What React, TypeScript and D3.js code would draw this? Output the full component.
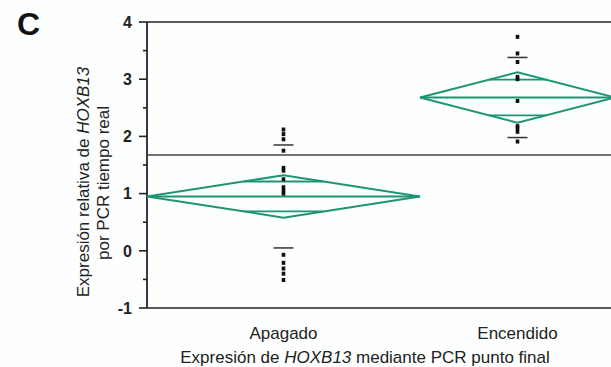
import React from "react";
import * as d3 from "d3";

const groups = ["Apagado", "Encendido"];
const groupSizes = [14, 10];
const apagadoValues = [2.12, 2.04, 1.95, 1.75, 1.45, 1.4, 1.25, 1.11, 1.05, 1.0, -0.07, -0.21, -0.31, -0.4, -0.51];
const encendidoValues = [3.74, 3.45, 3.3, 3.04, 3.0, 2.62, 2.18, 2.14, 2.08, 1.91];
const groupMeans = [0.95, 2.68];
const groupCiHalf = [0.37, 0.44];
const groupSd = [0.9, 0.7];
const grandMean = 1.675;
const yTicks = [-1, 0, 1, 2, 3, 4];
const yMinorTicks = [-0.5, 0.5, 1.5, 2.5, 3.5];

const W = 611;
const H = 367;
const DIAMOND = "#1f9474";
const FONT = "'Liberation Sans', Arial, sans-serif";

export default function App() {
  const y = d3.scaleLinear().domain([-1, 4]).range([308, 22]);
  const total = d3.sum(groupSizes);
  const x = d3.scaleLinear().domain([0, total]).range([147, 615]);
  const cum = d3.cumsum(groupSizes);
  const bounds = groupSizes.map((n, i) => [x(cum[i] - n), x(cum[i])]);
  const values = [apagadoValues, encendidoValues];
  const x0 = x(0);
  const axisY = y(-1);
  const topY = y(4);

  return (
    <svg width={W} height={H} style={{ position: "absolute", left: 0, top: 0, background: "#fdfffe" }}>
      {/* panel letter */}
      <text x={17} y={35} fontFamily={FONT} fontWeight="bold" fontSize={32} fill="#111">C</text>

      {/* frame lines */}
      <line x1={x0} x2={W} y1={topY} y2={topY} stroke="#222" strokeWidth={1.6} />
      <line x1={x0} x2={W} y1={axisY} y2={axisY} stroke="#222" strokeWidth={1.6} />
      <line x1={x0} x2={x0} y1={topY} y2={axisY} stroke="#223" strokeWidth={1.8} />

      {/* grand mean */}
      <line x1={x0} x2={W} y1={y(grandMean)} y2={y(grandMean)} stroke="#444" strokeWidth={1.3} />

      {/* y ticks */}
      {yTicks.map((t) => (
        <g key={t}>
          <line x1={x0 - 8} x2={x0} y1={y(t)} y2={y(t)} stroke="#222" strokeWidth={1.6} />
          <text x={132} y={y(t)} dy="0.36em" textAnchor="end" fontFamily={FONT} fontWeight="bold" fontSize={16} fill="#222">
            {t}
          </text>
        </g>
      ))}
      {yMinorTicks.map((t) => (
        <line key={t} x1={x0 - 4} x2={x0} y1={y(t)} y2={y(t)} stroke="#222" strokeWidth={1.6} />
      ))}

      {/* x tick at group boundary */}
      {cum.slice(0, -1).map((c) => (
        <line key={c} x1={x(c)} x2={x(c)} y1={axisY} y2={axisY + 6} stroke="#222" strokeWidth={1.8} />
      ))}

      {/* diamonds */}
      {groups.map((g, i) => {
        const [a, b] = bounds[i];
        const c = (a + b) / 2;
        const m = groupMeans[i];
        const ci = groupCiHalf[i];
        const pts = [
          [a, y(m)],
          [c, y(m + ci)],
          [b, y(m)],
          [c, y(m - ci)],
        ];
        const ov = ci / Math.SQRT2;
        const hw = ((b - a) / 2) * (1 - 1 / Math.SQRT2);
        return (
          <g key={g}>
            <polygon points={pts.map((p) => p.join(",")).join(" ")} fill="none" stroke={DIAMOND} strokeWidth={2} />
            <line x1={a} x2={b} y1={y(m)} y2={y(m)} stroke={DIAMOND} strokeWidth={2} />
            <line x1={c - hw} x2={c + hw} y1={y(m + ov)} y2={y(m + ov)} stroke={DIAMOND} strokeWidth={1.8} />
            <line x1={c - hw} x2={c + hw} y1={y(m - ov)} y2={y(m - ov)} stroke={DIAMOND} strokeWidth={1.8} />
          </g>
        );
      })}

      {/* SD lines and points */}
      {groups.map((g, i) => {
        const [a, b] = bounds[i];
        const c = (a + b) / 2;
        const m = groupMeans[i];
        const s = groupSd[i];
        return (
          <g key={g + "pts"}>
            {[m + s, m - s].map((v, k) => (
              <line key={k} x1={c - 10} x2={c + 10} y1={y(v)} y2={y(v)} stroke="#333" strokeWidth={1.5} />
            ))}
            {values[i].map((v, k) => (
              <rect key={k} x={c - 1.8} y={y(v) - 2} width={3.6} height={4} fill="#111" />
            ))}
            <text x={c} y={339} textAnchor="middle" fontFamily={FONT} fontSize={17} fill="#222">
              {g}
            </text>
          </g>
        );
      })}

      {/* axis titles */}
      <text x={365} y={363} textAnchor="middle" fontFamily={FONT} fontSize={17} fill="#222">
        Expresión de <tspan fontStyle="italic">HOXB13</tspan> mediante PCR punto final
      </text>
      <text transform="translate(89,182) rotate(-90)" textAnchor="middle" fontFamily={FONT} fontSize={17} fill="#222">
        Expresión relativa de <tspan fontStyle="italic">HOXB13</tspan>
      </text>
      <text transform="translate(109,183) rotate(-90)" textAnchor="middle" fontFamily={FONT} fontSize={17} fill="#222">
        por PCR tiempo real
      </text>
    </svg>
  );
}
